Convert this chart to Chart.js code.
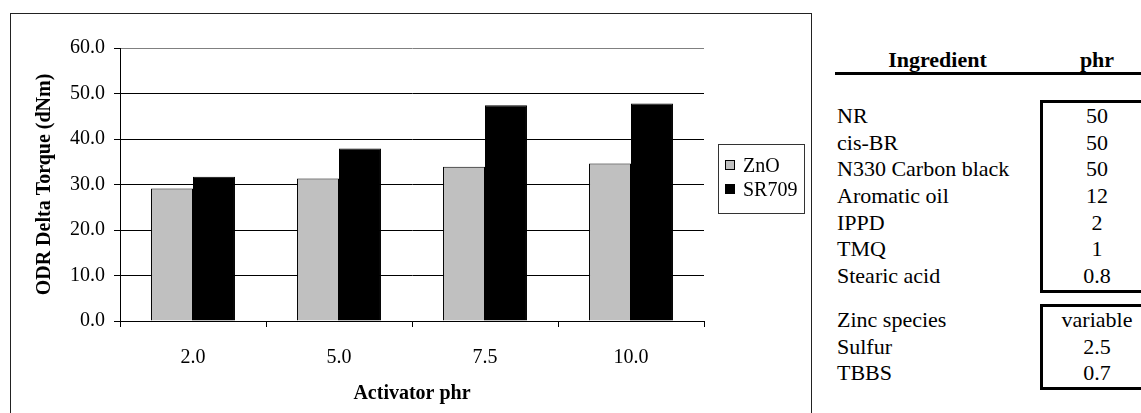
<!DOCTYPE html>
<html lang="en">
<head>
  <meta charset="UTF-8" />
  <title>ODR Delta Torque vs Activator phr</title>
  <script src="https://cdn.jsdelivr.net/npm/chart.js@4/dist/chart.umd.min.js"></script>
  <style>
    *, *::before, *::after { box-sizing: border-box; margin: 0; padding: 0; }
    html, body { width: 1141px; height: 413px; overflow: hidden; background: #fff; }
    body {
      position: relative;
      font-family: 'Liberation Serif', 'Times New Roman', serif;
      color: #000;
    }
    .chart-box {
      position: absolute;
      left: 10px; top: 13px;
      width: 802px; height: 430px;
      border: 1px solid #222;
    }
    .chart-wrap { position: absolute; left: 0; top: 0; width: 800px; height: 400px; }
    .legend {
      position: absolute;
      left: 718px; top: 144px;
      width: 87px; height: 70px;
      border: 1px solid #333;
      padding-top: 8px;
      font-size: 20px;
    }
    .legend__item { display: flex; align-items: center; height: 24px; line-height: 24px; }
    .legend__box {
      width: 10px; height: 10px;
      margin-left: 6px; margin-right: 8px;
      border: 1px solid #000;
    }
    .recipe { position: absolute; left: 835px; top: 0; width: 320px; font-size: 22px; }
    .recipe__head {
      position: absolute; top: 47px; left: 0;
      display: flex; font-weight: bold; line-height: 26px;
    }
    .recipe__rule { position: absolute; top: 72px; left: 0; width: 320px; height: 3px; background: #000; }
    .recipe__group { position: absolute; left: 0; display: flex; }
    .col-name { width: 205px; padding-left: 2px; text-align: left; }
    .recipe__head .col-name { text-align: center; padding-left: 0; }
    .col-phr { width: 114px; text-align: center; }
    .recipe__group .col-name { padding-top: 3px; }
    .recipe__group .col-phr { border: 3px solid #000; }
    .recipe__group div div { line-height: 26.7px; height: 26.7px; }
  </style>
</head>
<body>
  <div class="chart-box">
    <div class="chart-wrap"><canvas id="chart"></canvas></div>
  </div>
  <div class="legend" id="legend"></div>

  <div class="recipe">
    <div class="recipe__head">
      <div class="col-name">Ingredient</div>
      <div class="col-phr">phr</div>
    </div>
    <div class="recipe__rule"></div>
    <div class="recipe__group" id="group1" style="top: 100px;"></div>
    <div class="recipe__group" id="group2" style="top: 304px;"></div>
  </div>

  <script>
    // bar chart data
    const activatorPhr = ['2.0', '5.0', '7.5', '10.0'];
    const znoTorque = [29.1, 31.3, 33.9, 34.6];
    const sr709Torque = [31.7, 37.9, 47.4, 47.8];
    const yTicks = [0, 10, 20, 30, 40, 50, 60];

    // recipe table
    const baseIngredients = ['NR', 'cis-BR', 'N330 Carbon black', 'Aromatic oil', 'IPPD', 'TMQ', 'Stearic acid'];
    const basePhr = ['50', '50', '50', '12', '2', '1', '0.8'];
    const cureIngredients = ['Zinc species', 'Sulfur', 'TBBS'];
    const curePhr = ['variable', '2.5', '0.7'];

    function fillGroup(id, names, values) {
      const el = document.getElementById(id);
      const nameCol = document.createElement('div');
      nameCol.className = 'col-name';
      const phrCol = document.createElement('div');
      phrCol.className = 'col-phr';
      names.forEach((name, i) => {
        const n = document.createElement('div');
        n.textContent = name;
        nameCol.appendChild(n);
        const v = document.createElement('div');
        v.textContent = values[i];
        phrCol.appendChild(v);
      });
      el.appendChild(nameCol);
      el.appendChild(phrCol);
    }
    fillGroup('group1', baseIngredients, basePhr);
    fillGroup('group2', cureIngredients, curePhr);

    Chart.defaults.font.family = "'Liberation Serif', 'Times New Roman', serif";
    Chart.defaults.font.size = 20;
    Chart.defaults.color = '#000';

    const GRID_GREY = '#808080';

    const chart = new Chart(document.getElementById('chart'), {
      type: 'bar',
      data: {
        labels: activatorPhr,
        datasets: [
          {
            label: 'ZnO',
            data: znoTorque,
            backgroundColor: '#c0c0c0',
            borderColor: '#000',
            borderWidth: 1,
          },
          {
            label: 'SR709',
            data: sr709Torque,
            backgroundColor: '#000',
            borderColor: '#000',
            borderWidth: 1,
          },
        ],
      },
      options: {
        responsive: true,
        maintainAspectRatio: false,
        animation: false,
        categoryPercentage: 0.575,
        barPercentage: 1.0,
        layout: { padding: { top: 34, right: 107, bottom: 0, left: 0 } },
        plugins: {
          legend: { display: false },
          tooltip: { enabled: false },
        },
        scales: {
          x: {
            afterFit: (scale) => { scale.height = 93; },
            grid: {
              offset: true,
              drawOnChartArea: true,
              color: (ctx) => (ctx.index === activatorPhr.length ? GRID_GREY : 'rgba(0,0,0,0)'),
              tickColor: '#000',
              tickLength: 6,
            },
            border: { color: '#000', width: 1 },
            ticks: { padding: 19, font: { size: 20 } },
            title: {
              display: true,
              text: 'Activator phr',
              font: { size: 20, weight: 'bold' },
              padding: { top: 10, bottom: 8 },
            },
          },
          y: {
            min: yTicks[0],
            max: yTicks[yTicks.length - 1],
            afterFit: (scale) => { scale.width = 109; },
            ticks: {
              stepSize: yTicks[1] - yTicks[0],
              padding: 9,
              font: { size: 20 },
              callback: (value) => Number(value).toFixed(1),
            },
            grid: {
              color: (ctx) => (ctx.tick && ctx.tick.value === yTicks[yTicks.length - 1] ? GRID_GREY : '#000'),
              tickColor: '#000',
              tickLength: 6,
            },
            border: { color: '#000', width: 1 },
            title: {
              display: true,
              text: 'ODR Delta Torque (dNm)',
              font: { size: 20, weight: 'bold' },
              padding: { top: 22, bottom: 13 },
            },
          },
        },
      },
    });

    // html legend built from the chart's datasets
    const legendEl = document.getElementById('legend');
    chart.data.datasets.forEach((ds) => {
      const item = document.createElement('div');
      item.className = 'legend__item';
      const box = document.createElement('span');
      box.className = 'legend__box';
      box.style.background = ds.backgroundColor;
      const txt = document.createElement('span');
      txt.textContent = ds.label;
      item.appendChild(box);
      item.appendChild(txt);
      legendEl.appendChild(item);
    });
  </script>
</body>
</html>
